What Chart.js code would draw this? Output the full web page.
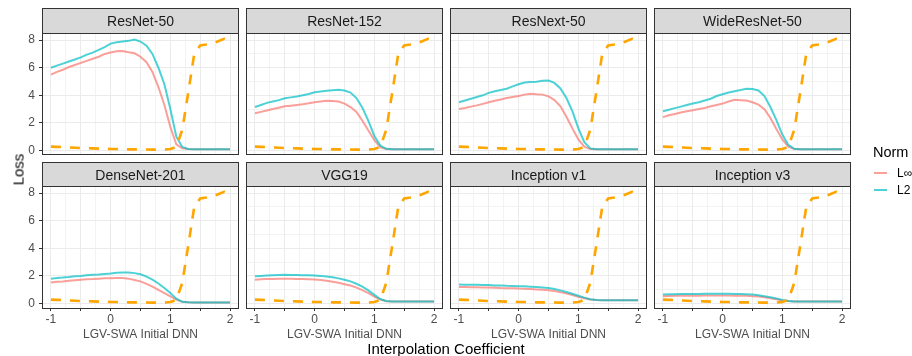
<!DOCTYPE html>
<html>
<head>
<meta charset="utf-8">
<script src="https://cdn.jsdelivr.net/npm/chart.js@4.4.1/dist/chart.umd.min.js"></script>
<style>
  body { margin: 0; background: #fff; font-family: "Liberation Sans", Arial, Helvetica, sans-serif; font-weight: 400; }
  #wrap { position: relative; width: 912px; height: 356px; overflow: hidden; }
  #wrap canvas, .strip, .frame, .txt, .key { position: absolute; }
  .strip { box-sizing: border-box; border: 1px solid #333; background: #d9d9d9; color: #1a1a1a;
           font-size: 14px; font-weight: 400; display: flex; align-items: center; justify-content: center;
           will-change: transform; }
  .frame { box-sizing: border-box; border: 1px solid #333; pointer-events: none; }
  .txt { white-space: nowrap; line-height: 1; font-weight: 400; }
</style>
</head>
<body>
<div id="wrap"></div>
<script>
// interpolation coefficient (x) shared by every panel
const coef = [-1.0, -0.9, -0.8, -0.7, -0.6, -0.5, -0.4, -0.3, -0.2, -0.1,
               0.0,  0.1,  0.2,  0.3,  0.4,  0.5,  0.6,  0.7,  0.8,  0.9,
               1.0,  1.1,  1.2,  1.3,  1.4,  1.5,  1.6,  1.7,  1.8,  1.9, 2.0];

// dashed reference curve, identical in all panels
const interpLoss = [0.28, 0.26, 0.24, 0.22, 0.20, 0.18, 0.16, 0.15, 0.13, 0.12,
                    0.11, 0.10, 0.09, 0.08, 0.08, 0.07, 0.07, 0.06, 0.06, 0.07,
                    0.10, 0.25, 1.50, 4.20, 7.00, 7.62, 7.68, 7.75, 7.92, 8.10, 7.95];

const resnet50Linf = [5.50, 5.70, 5.85, 6.05, 6.20, 6.35, 6.50, 6.65, 6.80, 7.00,
                      7.10, 7.20, 7.22, 7.12, 7.05, 6.80, 6.40, 5.70, 4.60, 3.30,
                      1.70, 0.45, 0.15, 0.10, 0.09, 0.09, 0.09, 0.09, 0.09, 0.09, 0.09];
const resnet50L2 = [6.00, 6.15, 6.30, 6.45, 6.60, 6.75, 6.95, 7.10, 7.30, 7.50,
                    7.75, 7.85, 7.90, 7.95, 8.05, 7.90, 7.60, 7.00, 6.00, 4.80,
                    3.00, 1.00, 0.25, 0.11, 0.09, 0.09, 0.09, 0.09, 0.09, 0.09, 0.09];

const resnet152Linf = [2.70, 2.80, 2.90, 3.00, 3.10, 3.20, 3.25, 3.30, 3.35, 3.42,
                       3.50, 3.55, 3.60, 3.58, 3.55, 3.40, 3.15, 2.80, 2.15, 1.45,
                       0.75, 0.22, 0.10, 0.08, 0.08, 0.08, 0.08, 0.08, 0.08, 0.08, 0.08];
const resnet152L2 = [3.15, 3.30, 3.45, 3.55, 3.65, 3.78, 3.85, 3.92, 4.00, 4.10,
                     4.22, 4.28, 4.33, 4.37, 4.40, 4.35, 4.20, 3.80, 3.10, 2.15,
                     1.05, 0.35, 0.12, 0.08, 0.08, 0.08, 0.08, 0.08, 0.08, 0.08, 0.08];

const resnextLinf = [3.00, 3.08, 3.18, 3.27, 3.38, 3.50, 3.60, 3.70, 3.80, 3.88,
                     3.95, 4.05, 4.12, 4.08, 4.05, 3.92, 3.65, 3.20, 2.45, 1.60,
                     0.80, 0.28, 0.10, 0.08, 0.08, 0.08, 0.08, 0.08, 0.08, 0.08, 0.08];
const resnextL2 = [3.50, 3.62, 3.75, 3.88, 4.00, 4.18, 4.30, 4.38, 4.48, 4.65,
                   4.80, 4.93, 4.97, 4.98, 5.05, 5.07, 4.90, 4.50, 3.80, 2.85,
                   1.60, 0.60, 0.15, 0.08, 0.08, 0.08, 0.08, 0.08, 0.08, 0.08, 0.08];

const wideLinf = [2.42, 2.55, 2.65, 2.75, 2.85, 2.92, 3.00, 3.08, 3.20, 3.30,
                  3.40, 3.55, 3.68, 3.65, 3.62, 3.50, 3.32, 3.00, 2.35, 1.55,
                  0.80, 0.28, 0.10, 0.08, 0.08, 0.08, 0.08, 0.08, 0.08, 0.08, 0.08];
const wideL2 = [2.85, 2.95, 3.07, 3.18, 3.30, 3.40, 3.50, 3.62, 3.75, 3.95,
                4.08, 4.20, 4.30, 4.38, 4.47, 4.45, 4.35, 3.95, 3.15, 2.20,
                1.15, 0.40, 0.12, 0.08, 0.08, 0.08, 0.08, 0.08, 0.08, 0.08, 0.08];

const denseLinf = [1.52, 1.57, 1.60, 1.64, 1.68, 1.72, 1.75, 1.77, 1.80, 1.82,
                   1.83, 1.84, 1.84, 1.80, 1.70, 1.60, 1.42, 1.22, 0.98, 0.75,
                   0.52, 0.28, 0.12, 0.08, 0.07, 0.07, 0.07, 0.07, 0.07, 0.07, 0.07];
const denseL2 = [1.80, 1.85, 1.88, 1.92, 1.97, 2.00, 2.05, 2.08, 2.10, 2.14,
                 2.17, 2.22, 2.25, 2.24, 2.20, 2.12, 1.95, 1.72, 1.45, 1.12,
                 0.75, 0.35, 0.12, 0.08, 0.07, 0.07, 0.07, 0.07, 0.07, 0.07, 0.07];

const vggLinf = [1.72, 1.75, 1.77, 1.78, 1.79, 1.80, 1.79, 1.78, 1.77, 1.75,
                 1.73, 1.70, 1.65, 1.58, 1.50, 1.40, 1.30, 1.15, 0.97, 0.75,
                 0.50, 0.28, 0.16, 0.14, 0.14, 0.14, 0.14, 0.14, 0.14, 0.14, 0.14];
const vggL2 = [1.97, 2.00, 2.03, 2.05, 2.07, 2.08, 2.07, 2.06, 2.05, 2.04,
               2.02, 2.00, 1.95, 1.90, 1.82, 1.72, 1.60, 1.43, 1.22, 0.95,
               0.62, 0.32, 0.18, 0.14, 0.14, 0.14, 0.14, 0.14, 0.14, 0.14, 0.14];

const incV1Linf = [1.20, 1.19, 1.18, 1.17, 1.16, 1.15, 1.14, 1.12, 1.11, 1.10,
                   1.08, 1.07, 1.05, 1.02, 0.99, 0.96, 0.90, 0.82, 0.72, 0.61,
                   0.49, 0.38, 0.29, 0.25, 0.24, 0.24, 0.24, 0.24, 0.24, 0.24, 0.24];
const incV1L2 = [1.37, 1.36, 1.36, 1.35, 1.34, 1.33, 1.31, 1.30, 1.28, 1.27,
                 1.25, 1.24, 1.22, 1.19, 1.16, 1.12, 1.05, 0.95, 0.83, 0.70,
                 0.56, 0.42, 0.30, 0.25, 0.24, 0.24, 0.24, 0.24, 0.24, 0.24, 0.24];

const incV3Linf = [0.53, 0.54, 0.55, 0.55, 0.56, 0.56, 0.56, 0.57, 0.57, 0.57,
                   0.57, 0.57, 0.56, 0.56, 0.55, 0.53, 0.50, 0.45, 0.38, 0.30,
                   0.22, 0.17, 0.15, 0.14, 0.14, 0.14, 0.14, 0.14, 0.14, 0.14, 0.14];
const incV3L2 = [0.65, 0.66, 0.67, 0.68, 0.68, 0.69, 0.69, 0.70, 0.70, 0.70,
                 0.70, 0.70, 0.69, 0.68, 0.67, 0.65, 0.60, 0.53, 0.45, 0.36,
                 0.26, 0.18, 0.15, 0.14, 0.14, 0.14, 0.14, 0.14, 0.14, 0.14, 0.14];

// facet order: name, L-inf curve, L2 curve
const panels = [
  ['ResNet-50', resnet50Linf, resnet50L2],
  ['ResNet-152', resnet152Linf, resnet152L2],
  ['ResNext-50', resnextLinf, resnextL2],
  ['WideResNet-50', wideLinf, wideL2],
  ['DenseNet-201', denseLinf, denseL2],
  ['VGG19', vggLinf, vggL2],
  ['Inception v1', incV1Linf, incV1L2],
  ['Inception v3', incV3Linf, incV3L2]
];

// axis breaks
const xGrid = [-1, -0.75, -0.5, -0.25, 0, 0.25, 0.5, 0.75, 1, 1.25, 1.5, 1.75, 2];
const xMajor = [-1, -0.5, 0, 0.5, 1, 1.5, 2];
const xLabels = [-1, 0, 1, 2];
const yGrid = [0, 1, 2, 3, 4, 5, 6, 7, 8];
const yMajor = [0, 2, 4, 6, 8];

const normNames = ['L∞', 'L2'];
const normColors = ['rgba(248,118,109,0.7)', 'rgba(0,191,196,0.7)'];

const FONT = '"Liberation Sans", Arial, Helvetica, sans-serif';
Chart.defaults.font.family = FONT;

const colX = [42, 246, 450, 654];
const rowY = [33, 186];
const stripY = [8, 162];
const PW = 197, PH = 122;
const PAD_L = 42, PAD_T = 14, PAD_R = 10, PAD_B = 34;

const wrap = document.getElementById('wrap');

function pairs(ys) {
  return coef.map((x, i) => ({ x: x, y: ys[i] }));
}

function addDiv(cls, css, text) {
  const d = document.createElement('div');
  d.className = cls;
  Object.assign(d.style, css);
  if (text !== undefined) d.textContent = text;
  wrap.appendChild(d);
  return d;
}

panels.forEach(([name, linf, l2], i) => {
  const r = Math.floor(i / 4), c = i % 4;
  const bottom = r === 1, left = c === 0;

  const cv = document.createElement('canvas');
  cv.width = PW + PAD_L + PAD_R;
  cv.height = PH + PAD_T + PAD_B;
  cv.style.left = (colX[c] - PAD_L) + 'px';
  cv.style.top = (rowY[r] - PAD_T) + 'px';
  wrap.appendChild(cv);

  // lower order is painted later: L-inf at the bottom, dashed curve on top
  new Chart(cv, {
    type: 'line',
    data: {
      datasets: [
        { label: normNames[0], data: pairs(linf), borderColor: normColors[0], borderWidth: 2,
          pointRadius: 0, order: 2 },
        { label: normNames[1], data: pairs(l2), borderColor: normColors[1], borderWidth: 2,
          pointRadius: 0, order: 1 },
        { label: 'LGV-SWA', data: pairs(interpLoss), borderColor: '#FFA500', borderWidth: 2.6,
          borderDash: [10, 9], pointRadius: 0, order: 0 }
      ]
    },
    options: {
      responsive: false,
      animation: false,
      devicePixelRatio: 1,
      layout: { padding: { top: PAD_T, right: PAD_R, left: 0, bottom: 0 } },
      plugins: { legend: { display: false }, tooltip: { enabled: false } },
      scales: {
        x: {
          type: 'linear', min: -1.15, max: 2.15,
          afterBuildTicks: s => { s.ticks = xGrid.map(v => ({ value: v })); },
          afterFit: s => { s.height = PAD_B; },
          border: { display: false },
          grid: {
            color: '#ebebeb',
            lineWidth: ctx => xMajor.includes(ctx.tick.value) ? 1 : 0.6,
            drawTicks: bottom,
            tickLength: 3,
            tickWidth: 1,
            tickColor: ctx => xMajor.includes(ctx.tick.value) ? '#333333' : 'rgba(0,0,0,0)'
          },
          ticks: {
            display: bottom, autoSkip: false, maxRotation: 0, padding: 1,
            color: '#4d4d4d', font: { size: 12 },
            callback: v => xLabels.includes(v) ? String(v) : ''
          },
          title: {
            display: bottom, text: 'LGV-SWA Initial DNN', color: '#4d4d4d',
            font: { size: 12 }, padding: { top: 0, bottom: 0 }
          }
        },
        y: {
          type: 'linear', min: -0.33, max: 8.52,
          afterBuildTicks: s => { s.ticks = yGrid.map(v => ({ value: v })); },
          afterFit: s => { s.width = PAD_L; },
          border: { display: false },
          grid: {
            color: '#ebebeb',
            lineWidth: ctx => yMajor.includes(ctx.tick.value) ? 1 : 0.6,
            drawTicks: left,
            tickLength: 3,
            tickWidth: 1,
            tickColor: ctx => yMajor.includes(ctx.tick.value) ? '#333333' : 'rgba(0,0,0,0)'
          },
          ticks: {
            display: left, padding: 4, color: '#4d4d4d', font: { size: 12 },
            callback: v => yMajor.includes(v) ? String(v) : ''
          }
        }
      }
    }
  });

  // strip header and panel frame
  addDiv('strip', {
    left: colX[c] + 'px', top: stripY[r] + 'px',
    width: PW + 'px', height: (rowY[r] - stripY[r] + 1) + 'px'
  }, name);
  addDiv('frame', {
    left: colX[c] + 'px', top: rowY[r] + 'px',
    width: PW + 'px', height: (r === 0 ? PH : PH + 1) + 'px'
  });
});

// axis titles
addDiv('txt', { left: '-12px', top: '162px', width: '60px', textAlign: 'center',
  fontSize: '15px', color: '#000', transform: 'rotate(-90deg)' }, 'Loss');
addDiv('txt', { left: '296px', top: '341px', width: '300px', textAlign: 'center',
  fontSize: '15px', color: '#000' }, 'Interpolation Coefficient');

// legend
addDiv('txt', { left: '873px', top: '145px', fontSize: '14.5px', color: '#000' }, 'Norm');
normNames.forEach((n, k) => {
  const cy = 173 + k * 17;
  addDiv('key', { left: '874px', top: (cy - 1) + 'px', width: '13px', height: '2px',
    background: normColors[k] });
  addDiv('txt', { left: '897px', top: (cy - 6) + 'px', fontSize: '12px', color: '#000' }, n);
});
</script>
</body>
</html>
